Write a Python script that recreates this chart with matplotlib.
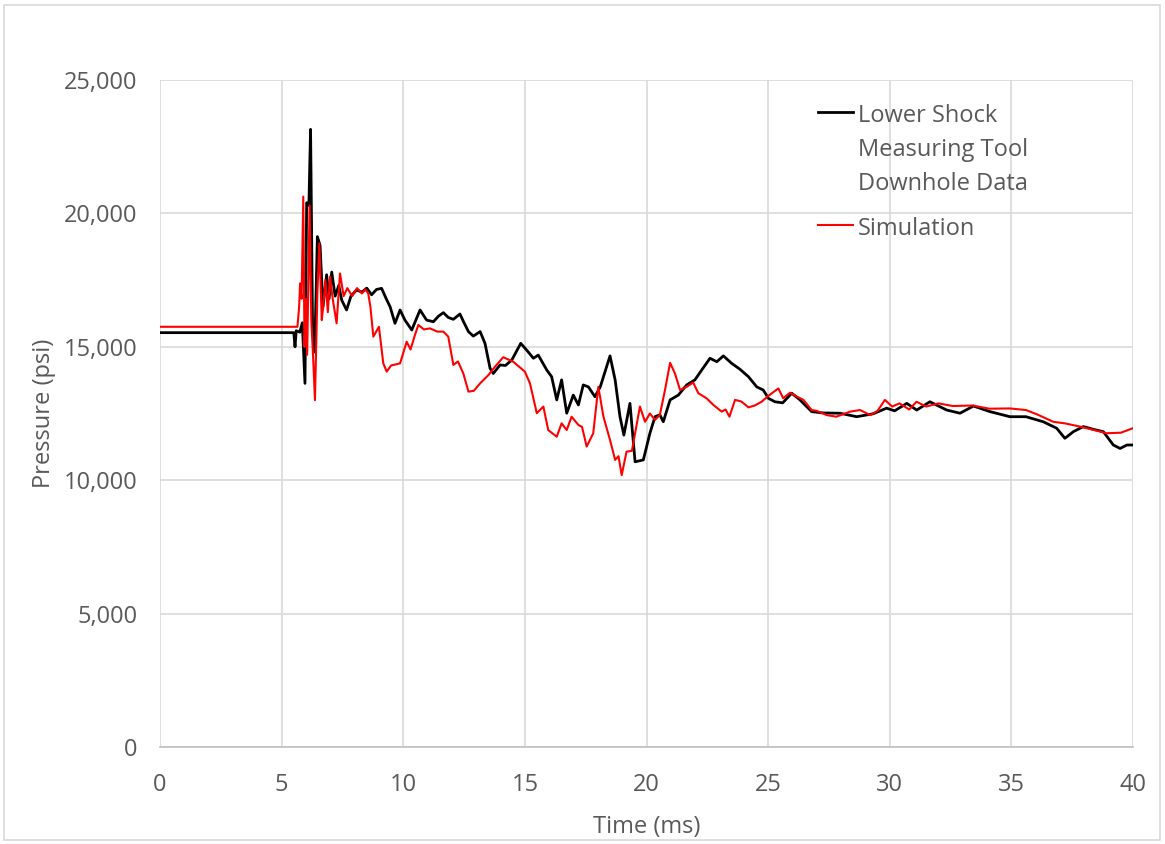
import matplotlib
matplotlib.use("Agg")
import matplotlib.pyplot as plt
from matplotlib.ticker import FuncFormatter, MultipleLocator

# Lower Shock Measuring Tool downhole data (time in ms, pressure in psi)
black_t = [0, 5.5, 5.55, 5.6, 5.75, 5.85, 5.96, 6.03, 6.12, 6.19, 6.27, 6.36,
           6.47, 6.58, 6.7, 6.85, 6.95, 7.06, 7.2, 7.35, 7.47, 7.67, 7.85, 8.08,
           8.3, 8.5, 8.7, 8.9, 9.11, 9.3, 9.46, 9.66, 9.87, 10.07, 10.35, 10.69,
           10.96, 11.24, 11.45, 11.65, 11.85, 12.06, 12.33, 12.5, 12.68, 12.88,
           13.16, 13.36, 13.57, 13.7, 13.98, 14.2, 14.46, 14.83, 15.07, 15.35,
           15.55, 15.9, 16.1, 16.31, 16.51, 16.72, 16.99, 17.2, 17.4, 17.61,
           17.88, 18.1, 18.5, 18.71, 18.91, 19.07, 19.32, 19.53, 19.87, 20.14,
           20.35, 20.55, 20.69, 20.97, 21.31, 21.65, 21.99, 22.27, 22.61, 22.89,
           23.16, 23.5, 23.84, 24.19, 24.53, 24.8, 25.01, 25.28, 25.6, 25.97,
           26.31, 26.79, 27.27, 27.95, 28.64, 29.32, 29.87, 30.2, 30.7, 31.11,
           31.65, 32.34, 32.89, 33.44, 34.12, 34.94, 35.6, 36.31, 36.86, 37.2,
           37.55, 37.96, 38.4, 38.78, 39.19, 39.47, 39.75, 40]
black_p = [15530, 15530, 15000, 15600, 15550, 15900, 13630, 20400, 20300, 23150,
           15900, 14800, 19130, 18800, 16500, 17700, 16800, 17800, 16900, 17300,
           16750, 16380, 16900, 17130, 17050, 17200, 16950, 17150, 17190, 16800,
           16500, 15880, 16380, 16000, 15630, 16380, 16000, 15940, 16150, 16280,
           16100, 16030, 16230, 15900, 15570, 15400, 15570, 15130, 14190, 14000,
           14320, 14300, 14500, 15130, 14880, 14570, 14690, 14130, 13880, 13010,
           13760, 12510, 13190, 12820, 13570, 13500, 13130, 13500, 14660, 13760,
           12380, 11690, 12880, 10690, 10760, 11760, 12380, 12450, 12190, 13010,
           13190, 13570, 13760, 14130, 14570, 14440, 14660, 14380, 14160, 13880,
           13500, 13380, 13070, 12940, 12900, 13260, 13010, 12570, 12520, 12510,
           12380, 12490, 12700, 12600, 12880, 12630, 12940, 12630, 12510, 12780,
           12570, 12380, 12380, 12190, 11950, 11570, 11820, 12010, 11900, 11820,
           11320, 11190, 11320, 11320]

# Simulation
red_t = [0, 5.65, 5.72, 5.76, 5.82, 5.89, 5.94, 6.0, 6.05, 6.15, 6.22, 6.3,
         6.37, 6.47, 6.55, 6.65, 6.71, 6.8, 6.9, 6.99, 7.1, 7.26, 7.4, 7.55,
         7.7, 7.9, 8.1, 8.3, 8.45, 8.56, 8.65, 8.77, 9.0, 9.18, 9.32, 9.5,
         9.87, 10.14, 10.3, 10.48, 10.62, 10.85, 11.1, 11.4, 11.65, 11.85,
         12.06, 12.25, 12.47, 12.68, 12.9, 13.16, 13.5, 13.77, 14.11, 14.52,
         15.0, 15.21, 15.49, 15.76, 15.96, 16.31, 16.51, 16.72, 16.92, 17.2,
         17.35, 17.54, 17.81, 18.02, 18.23, 18.5, 18.71, 18.85, 18.98, 19.18,
         19.4, 19.73, 19.94, 20.14, 20.35, 20.55, 20.76, 20.97, 21.17, 21.38,
         21.65, 21.92, 22.13, 22.47, 22.75, 23.09, 23.25, 23.41, 23.64, 23.9,
         24.19, 24.45, 24.73, 25.01, 25.42, 25.62, 25.9, 26.15, 26.45, 26.79,
         27.0, 27.41, 27.8, 28.37, 28.78, 29.2, 29.5, 29.8, 30.1, 30.4, 30.8,
         31.1, 31.5, 32.0, 32.6, 33.4, 34.1, 34.94, 35.6, 36.1, 36.72, 37.2,
         37.82, 38.4, 38.91, 39.5, 40]
red_p = [15750, 15750, 16500, 17380, 16800, 20630, 15000, 16800, 14700, 20300,
         16000, 14500, 13000, 17000, 18880, 16000, 16500, 17500, 16300, 17630,
         16800, 15880, 17750, 16900, 17200, 16900, 17200, 17000, 17150, 17000,
         16500, 15380, 15750, 14380, 14070, 14300, 14380, 15190, 14900, 15440,
         15820, 15650, 15690, 15570, 15570, 15380, 14320, 14450, 14000, 13320,
         13350, 13630, 13940, 14250, 14610, 14440, 14070, 13630, 12510, 12760,
         11880, 11630, 12130, 11880, 12380, 12070, 12000, 11260, 11760, 13500,
         12380, 11510, 10760, 10900, 10190, 11070, 11100, 12760, 12190, 12500,
         12260, 12450, 13380, 14400, 14000, 13380, 13500, 13660, 13260, 13070,
         12820, 12570, 12650, 12380, 13010, 12950, 12730, 12800, 12940, 13160,
         13440, 13070, 13280, 13150, 13010, 12630, 12600, 12440, 12380, 12570,
         12630, 12440, 12600, 13010, 12760, 12880, 12650, 12940, 12760, 12880,
         12780, 12800, 12680, 12690, 12630, 12450, 12190, 12130, 12010, 11880,
         11760, 11780, 11950]

TXT = "#595959"
GRID = "#D9D9D9"
FS = 17

plt.rcParams["font.family"] = ["Open Sans", "DejaVu Sans"]

fig = plt.figure(figsize=(11.65, 8.44), dpi=100)
ax = fig.add_axes([160 / 1165, 1 - 747 / 844, 973 / 1165, 667 / 844])

# cadre gris autour du graphique (style Excel)
fig.add_artist(plt.Rectangle((4 / 1165, 4 / 844), 1156 / 1165, 835 / 844,
                             transform=fig.transFigure, fill=False,
                             edgecolor=GRID, linewidth=1.2))

ax.plot(black_t, black_p, color="black", linewidth=2.0,
        label="Lower Shock\nMeasuring Tool\nDownhole Data")
ax.plot(red_t, red_p, color="#FF0000", linewidth=1.5, label="Simulation")

ax.set_xlim(0, 40)
ax.set_ylim(0, 25000)
ax.xaxis.set_major_locator(MultipleLocator(5))
ax.yaxis.set_major_locator(MultipleLocator(5000))
ax.yaxis.set_major_formatter(FuncFormatter(lambda v, _: f"{int(v):,}"))
ax.grid(True, color=GRID, linewidth=1.2)
ax.set_axisbelow(True)
for side in ("top", "right", "left"):
    ax.spines[side].set_visible(False)
ax.spines["bottom"].set_color("#BFBFBF")
ax.spines["bottom"].set_linewidth(1.2)
ax.tick_params(axis="both", length=0, labelsize=FS, labelcolor=TXT)
ax.tick_params(axis="y", pad=16)
ax.tick_params(axis="x", pad=19)

ax.set_xlabel("Time (ms)", fontsize=FS, color=TXT, labelpad=13)
ax.set_ylabel("Pressure (psi)", fontsize=FS, color=TXT, labelpad=6)

leg = ax.legend(loc="upper left", bbox_to_anchor=(0.676, 0.964), frameon=False,
                fontsize=FS, handlelength=1.5, handletextpad=0.2,
                borderpad=0, borderaxespad=0, labelspacing=0.9)
for t in leg.get_texts():
    t.set_color(TXT)
    t.set_linespacing(1.55)
for col in leg._legend_handle_box.get_children():
    for row in col.get_children():
        row.align = "top"

fig.savefig("out.png", dpi=100)
